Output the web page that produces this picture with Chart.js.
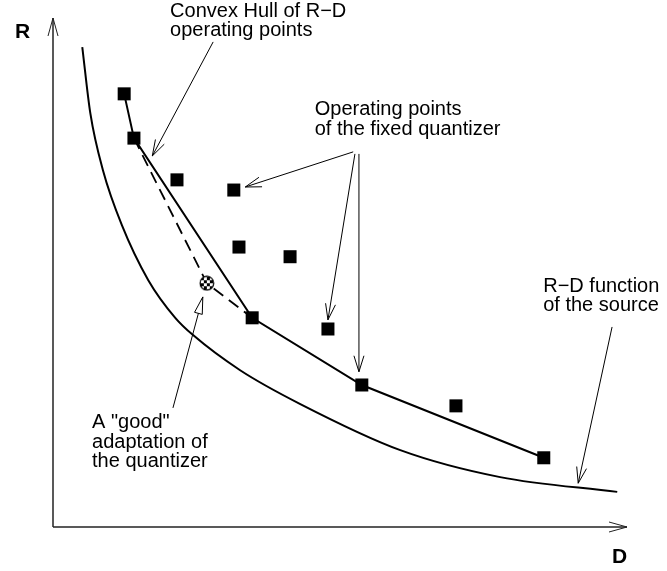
<!DOCTYPE html>
<html><head><meta charset="utf-8">
<script src="https://cdn.jsdelivr.net/npm/chart.js@4/dist/chart.umd.min.js"></script>
<style>html,body{margin:0;padding:0;background:#fff}</style>
</head><body>
<canvas id="c" width="667" height="571"></canvas>
<script>
// Operating points of the fixed quantizer (D, R)
const opD = [1.24, 1.41, 2.16, 3.15, 3.24, 4.13, 3.47, 4.79, 5.38, 7.02, 8.55];
const opR = [8.51, 7.64, 6.82, 6.62, 5.50, 5.31, 4.11, 3.89, 2.79, 2.38, 1.36];
// Convex hull vertices (indices into operating points)
const hullIdx = [0, 1, 6, 8, 10];
// "good" adaptation point
const goodD = [2.68];
const goodR = [4.79];
// R-D function of the source
const rdD = [0.51, 0.65, 0.87, 1.20, 1.66, 2.13, 2.44, 3.26, 4.30, 6.05, 7.79, 9.83];
const rdR = [9.43, 8.13, 7.01, 5.93, 4.85, 4.11, 3.77, 3.08, 2.42, 1.51, 0.98, 0.69];
// Axis titles
const xTitle = 'D';
const yTitle = 'R';
// Annotation texts
const hullText = ['Convex Hull of R\u2212D', 'operating points'];
const opText = ['Operating points', 'of the fixed quantizer'];
const rdText = ['R\u2212D function', 'of the source'];
const goodText = ['A "good"', 'adaptation of', 'the quantizer'];

const pts = (xs, ys) => xs.map((x, i) => ({x: x, y: ys[i]}));
const hullPts = hullIdx.map(i => ({x: opD[i], y: opR[i]}));
const dashPts = [{x: opD[1], y: opR[1]}, {x: goodD[0], y: goodR[0]}, {x: opD[6], y: opR[6]}];

// Checkered marker
const chk = document.createElement('canvas');
chk.width = 16; chk.height = 16;
(function(){
  const g = chk.getContext('2d');
  g.save();
  g.beginPath(); g.arc(8, 8, 7, 0, Math.PI * 2); g.clip();
  g.fillStyle = '#fff'; g.fillRect(0, 0, 16, 16);
  g.fillStyle = '#000';
  for (let i = 0; i < 6; i++) for (let j = 0; j < 6; j++)
    if ((i + j) % 2 === 0) g.fillRect(i * 3 - 1, j * 3 - 1, 3, 3);
  g.restore();
  g.beginPath(); g.arc(8, 8, 6.8, 0, Math.PI * 2);
  g.lineWidth = 1.2; g.strokeStyle = '#000'; g.stroke();
})();

// Annotation layout (in data units)
const arrows = [
  {from: [2.79, 9.53], to: [1.73, 7.29]},
  {from: [5.23, 7.37], to: [3.35, 6.68]},
  {from: [5.26, 7.33], to: [4.79, 4.07]},
  {from: [5.33, 7.33], to: [5.33, 3.05]},
  {from: [9.74, 3.93], to: [9.15, 0.86]},
  {from: [2.09, 2.34], to: [2.61, 4.52], tri: true}
];
const notes = [
  {lines: hullText, at: [2.04, 10.02]},
  {lines: opText, at: [4.56, 8.09]},
  {lines: rdText, at: [8.54, 4.62]},
  {lines: goodText, at: [0.68, 1.94]}
];

const drawPlugin = {
  id: 'deco',
  afterDatasetsDraw(chart) {
    const ctx = chart.ctx, xs = chart.scales.x, ys = chart.scales.y;
    const P = (d, r) => [xs.getPixelForValue(d), ys.getPixelForValue(r)];
    ctx.save();
    function head(x1, y1, x2, y2, len, half, closed) {
      const a = Math.atan2(y2 - y1, x2 - x1);
      const bx = x2 - len * Math.cos(a), by = y2 - len * Math.sin(a);
      const px = -Math.sin(a) * half, py = Math.cos(a) * half;
      ctx.beginPath();
      ctx.moveTo(bx + px, by + py); ctx.lineTo(x2, y2); ctx.lineTo(bx - px, by - py);
      if (closed) { ctx.closePath(); ctx.fillStyle = '#fff'; ctx.fill(); }
      ctx.stroke();
    }
    // axes
    const o = P(0, 0), xe = P(10, 0), ye = P(0, 10);
    ctx.strokeStyle = '#222'; ctx.lineWidth = 1.5;
    ctx.beginPath(); ctx.moveTo(o[0], o[1]); ctx.lineTo(xe[0], xe[1]); ctx.stroke();
    ctx.beginPath(); ctx.moveTo(o[0], o[1]); ctx.lineTo(ye[0], ye[1]); ctx.stroke();
    ctx.lineWidth = 1;
    head(o[0], o[1], xe[0], xe[1], 18, 5, false);
    head(o[0], o[1], ye[0], ye[1], 18, 5, false);
    // arrows
    ctx.strokeStyle = '#000'; ctx.lineWidth = 1;
    arrows.forEach(a => {
      const f = P(a.from[0], a.from[1]), t = P(a.to[0], a.to[1]);
      ctx.beginPath(); ctx.moveTo(f[0], f[1]); ctx.lineTo(t[0], t[1]); ctx.stroke();
      if (a.tri) head(f[0], f[1], t[0], t[1], 17, 4, true);
      else head(f[0], f[1], t[0], t[1], 16, 5, false);
    });
    // texts
    ctx.fillStyle = '#000';
    ctx.textBaseline = 'alphabetic'; ctx.textAlign = 'left';
    ctx.font = '20px "Liberation Sans", Arial, sans-serif';
    notes.forEach(n => {
      const p = P(n.at[0], n.at[1]);
      n.lines.forEach((s, i) => ctx.fillText(s, p[0], p[1] + i * 19.5));
    });
    ctx.font = 'bold 21px "Liberation Sans", Arial, sans-serif';
    const rp = P(-0.66, 9.61); ctx.fillText(yTitle, rp[0], rp[1]);
    const dp = P(9.74, -0.71); ctx.fillText(xTitle, dp[0], dp[1]);
    ctx.restore();
  }
};

new Chart(document.getElementById('c'), {
  type: 'scatter',
  data: {
    datasets: [
      {data: pts(goodD, goodR), pointStyle: chk, pointRadius: 8, showLine: false},
      {data: pts(opD, opR), pointStyle: 'rect', pointRadius: 9.2, borderWidth: 0,
       backgroundColor: '#000', borderColor: '#000', showLine: false},
      {data: hullPts, showLine: true, borderColor: '#000', borderWidth: 2, pointRadius: 0},
      {data: dashPts, showLine: true, borderColor: '#000', borderWidth: 1.8,
       borderDash: [12, 7], pointRadius: 0},
      {data: pts(rdD, rdR), showLine: true, borderColor: '#000', borderWidth: 2,
       pointRadius: 0, cubicInterpolationMode: 'monotone'}
    ]
  },
  options: {
    responsive: false,
    animation: false,
    events: [],
    layout: {padding: {left: 53, right: 40, top: 18, bottom: 44}},
    plugins: {legend: {display: false}, tooltip: {enabled: false}},
    scales: {
      x: {type: 'linear', min: 0, max: 10, display: false},
      y: {type: 'linear', min: 0, max: 10, display: false}
    },
    clip: false
  },
  plugins: [drawPlugin]
});
</script>
</body></html>
